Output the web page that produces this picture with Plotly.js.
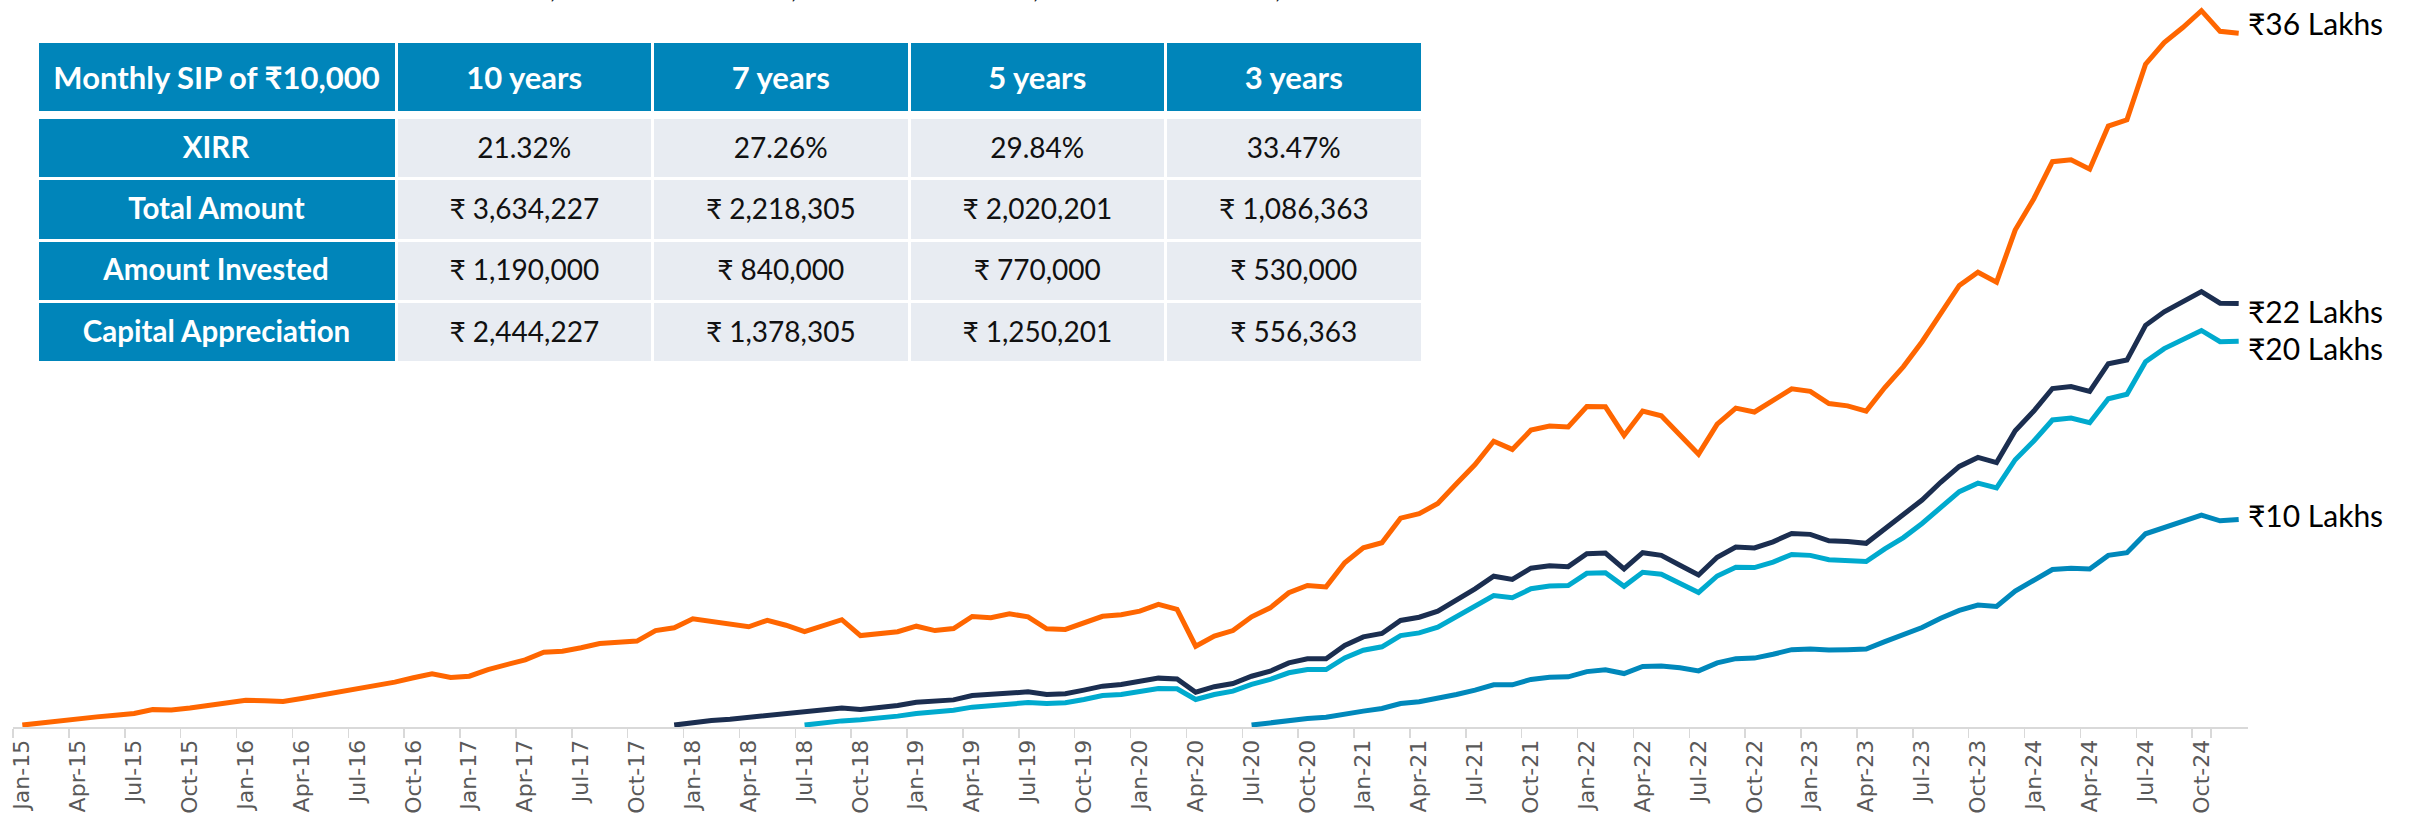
<!DOCTYPE html>
<html>
<head>
<meta charset="utf-8">
<script src="https://cdn.plot.ly/plotly-3.0.1.min.js"></script>
<style>
  html, body { margin: 0; padding: 0; background: #ffffff; }
  #chart { width: 2418px; height: 825px; }
</style>
</head>
<body>
<div id="chart"></div>
<script>
// ---------- categories / tick labels ----------
const monthNames = ['Jan','Feb','Mar','Apr','May','Jun','Jul','Aug','Sep','Oct','Nov','Dec'];
const yearLabels = ['15','16','17','18','19','20','21','22','23','24'];
const categories = [];
yearLabels.forEach(function (y) { monthNames.forEach(function (m) { categories.push(m + '-' + y); }); });
const tickLabels = categories.filter(function (c, i) { return i % 3 === 0; });

// ---------- series (portfolio value in ₹) ----------
const tenYearStart = 'Jan-15';
const tenYearValues = [
  10000, 22000, 33000, 44000, 53000, 62000, 71000, 91000, 89000, 100000,
  114000, 127000, 140000, 138000, 134000, 149000, 167000, 179000, 203000, 219000,
  235000, 258000, 279000, 259000, 266000, 301000, 327000, 352000, 392000, 397000,
  415000, 437000, 444000, 450000, 505000, 520000, 567000, 554000, 542000, 525000,
  559000, 533000, 499000, 532000, 562000, 479000, 488000, 499000, 528000, 505000,
  516000, 579000, 572000, 593000, 577000, 514000, 511000, 546000, 580000, 588000,
  607000, 642000, 616000, 423000, 476000, 505000, 577000, 624000, 703000, 741000,
  734000, 860000, 939000, 965000, 1094000, 1117000, 1171000, 1274000, 1375000, 1497000,
  1454000, 1555000, 1576000, 1572000, 1679000, 1677000, 1527000, 1655000, 1630000, 1530000,
  1429000, 1586000, 1670000, 1650000, 1707000, 1771000, 1758000, 1694000, 1682000, 1655000,
  1778000, 1888000, 2018000, 2171000, 2313000, 2382000, 2330000, 2603000, 2767000, 2961000,
  2971000, 2922000, 3148000, 3180000, 3472000, 3585000, 3664000, 3752000, 3644000, 3634227
];

const sevenYearStart = 'Dec-17';
const sevenYearValues = [
  10000, 25000, 34000, 41000, 50000, 60000, 67000, 76000, 88000, 99000,
  92000, 100000, 113000, 130000, 134000, 142000, 165000, 170000, 181000, 184000,
  170000, 174000, 193000, 214000, 223000, 237000, 256000, 252000, 182000, 211000,
  228000, 266000, 292000, 336000, 357000, 357000, 427000, 472000, 490000, 558000,
  575000, 607000, 664000, 724000, 790000, 773000, 832000, 844000, 840000, 908000,
  911000, 828000, 913000, 899000, 847000, 796000, 889000, 943000, 938000, 970000,
  1014000, 1009000, 975000, 972000, 962000, 1036000, 1110000, 1189000, 1282000, 1365000,
  1412000, 1385000, 1552000, 1655000, 1773000, 1783000, 1758000, 1903000, 1922000, 2104000,
  2175000, 2227000, 2281000, 2220000, 2218305
];

const fiveYearStart = 'Jul-18';
const fiveYearValues = [
  10000, 22000, 32000, 38000, 46000, 57000, 71000, 78000, 88000, 104000,
  111000, 121000, 128000, 123000, 127000, 144000, 165000, 170000, 184000, 202000,
  200000, 144000, 170000, 188000, 223000, 249000, 284000, 301000, 301000, 362000,
  402000, 420000, 479000, 493000, 523000, 577000, 630000, 689000, 677000, 724000,
  738000, 741000, 805000, 808000, 737000, 810000, 800000, 754000, 705000, 791000,
  837000, 835000, 864000, 904000, 899000, 876000, 874000, 867000, 933000, 992000,
  1066000, 1151000, 1233000, 1277000, 1252000, 1400000, 1498000, 1608000, 1618000, 1594000,
  1719000, 1743000, 1913000, 1982000, 2026000, 2077000, 2018000, 2020201
];

const threeYearStart = 'Jul-20';
const threeYearValues = [
  10000, 22000, 34000, 45000, 51000, 69000, 83000, 97000, 123000, 132000,
  148000, 170000, 193000, 221000, 221000, 249000, 261000, 263000, 290000, 300000,
  280000, 317000, 319000, 310000, 294000, 336000, 358000, 361000, 381000, 405000,
  408000, 403000, 405000, 408000, 447000, 481000, 521000, 570000, 611000, 639000,
  631000, 712000, 766000, 825000, 832000, 828000, 899000, 913000, 1012000, 1046000,
  1075000, 1110000, 1080000, 1086363
];

const endLabels = ['₹36 Lakhs', '₹22 Lakhs', '₹20 Lakhs', '₹10 Lakhs'];

// ---------- table ----------
const tableHeader = ['Monthly SIP of ₹10,000', '10 years', '7 years', '5 years', '3 years'];
const rowLabels = ['XIRR', 'Total Amount', 'Amount Invested', 'Capital Appreciation'];
const col10 = ['21.32%', '₹ 3,634,227', '₹ 1,190,000', '₹ 2,444,227'];
const col7  = ['27.26%', '₹ 2,218,305', '₹ 840,000', '₹ 1,378,305'];
const col5  = ['29.84%', '₹ 2,020,201', '₹ 770,000', '₹ 1,250,201'];
const col3  = ['33.47%', '₹ 1,086,363', '₹ 530,000', '₹ 556,363'];

// ---------- styling ----------
const C_ORANGE = '#FF6600', C_NAVY = '#1B2E50', C_CYAN = '#00AACE', C_TEAL = '#0088BB';
const C_HEAD = '#0085BA', C_CELL = '#E8ECF2', C_TXT = '#111111';
const FONT = 'Lato, "Noto Sans", "DejaVu Sans", sans-serif';

function xsFrom(start, n) {
  const s = categories.indexOf(start);
  return categories.slice(s, s + n);
}
function lineTrace(start, vals, color) {
  return { type: 'scatter', mode: 'lines', x: xsFrom(start, vals.length), y: vals,
           line: { color: color, width: 5 }, hoverinfo: 'skip', cliponaxis: false };
}

const W = 2418, H = 825;
const M = { l: 13, r: 170, t: 0, b: 98 };
const PW = W - M.l - M.r, PH = H - M.t - M.b;
function px2dx(px) { return (px - M.l) / PW; }
function py2dy(py) { return 1 - (py - M.t) / PH; }

const tblX = [px2dx(37), px2dx(1423)];
const colW = [359, 256.5, 256.5, 256.5, 256.5];

// a blank first line (in the small base font) pushes the real text down to the middle of the cell
function centred(txt, size, bold) {
  const t = bold ? '<b>' + txt + '</b>' : txt;
  return '&nbsp;<br><span style="font-size:' + size + 'px">' + t + '</span>';
}

const bodyCols = [rowLabels, col10, col7, col5, col3];
const bodyFill = [C_HEAD, C_CELL, C_CELL, C_CELL, C_CELL];
const bodyFontColor = ['#ffffff', C_TXT, C_TXT, C_TXT, C_TXT];
function fmtBody(v, ci) { return ci === 0 ? centred(v, 29.5, true) : centred(v, 28, false); }

// body table: first row (XIRR) is used as its header row, the other rows as cells
const bodyTable = {
  type: 'table',
  domain: { x: tblX, y: [py2dy(372), py2dy(117.5)] },
  columnwidth: colW,
  header: {
    values: bodyCols.map(function (col, ci) { return [fmtBody(col[0], ci)]; }),
    height: 61.3,
    align: 'center',
    fill: { color: bodyFill },
    line: { color: '#ffffff', width: 3 },
    font: { family: FONT, size: 14, color: bodyFontColor }
  },
  cells: {
    values: bodyCols.map(function (col, ci) { return col.slice(1).map(function (v) { return fmtBody(v, ci); }); }),
    height: 61.3,
    align: 'center',
    fill: { color: bodyFill },
    line: { color: '#ffffff', width: 3 },
    font: { family: FONT, size: 14, color: bodyFontColor }
  },
  hoverinfo: 'skip'
};

const headerTable = {
  type: 'table',
  domain: { x: tblX, y: [py2dy(114), py2dy(41.5)] },
  columnwidth: colW,
  header: {
    values: tableHeader.map(function (h) { return [centred(h, 31, true)]; }),
    height: 71,
    align: 'center',
    fill: { color: C_HEAD },
    line: { color: '#ffffff', width: 3 },
    font: { family: FONT, size: 17, color: '#ffffff' }
  },
  cells: { values: [] },
  hoverinfo: 'skip'
};

const traces = [
  lineTrace(threeYearStart, threeYearValues, C_TEAL),
  lineTrace(fiveYearStart, fiveYearValues, C_CYAN),
  lineTrace(sevenYearStart, sevenYearValues, C_NAVY),
  lineTrace(tenYearStart, tenYearValues, C_ORANGE),
  bodyTable,
  headerTable
];

const lastCat = categories[categories.length - 1];
const endSeries = [tenYearValues, sevenYearValues, fiveYearValues, threeYearValues];
const endShift = [10, -8, -7, 5];
const annotations = endSeries.map(function (vals, i) {
  return { x: lastCat, y: vals[vals.length - 1], xref: 'x', yref: 'y', text: endLabels[i],
           showarrow: false, xanchor: 'left', yanchor: 'middle', xshift: 7, yshift: endShift[i],
           font: { family: FONT, size: 30, color: '#000000' } };
});
// descenders of the cropped line of text above the chart
[553, 794, 1036, 1278].forEach(function (px) {
  annotations.push({ x: px2dx(px), y: 1, xref: 'paper', yref: 'paper', text: ',', showarrow: false,
                     xanchor: 'center', yanchor: 'bottom', yshift: -6,
                     font: { family: FONT, size: 27, color: '#000000' } });
});

const layout = {
  width: W, height: H,
  margin: M,
  paper_bgcolor: '#ffffff', plot_bgcolor: '#ffffff',
  showlegend: false,
  xaxis: {
    type: 'category', categoryorder: 'array', categoryarray: categories,
    range: [-0.5, categories.length - 0.5],
    tickmode: 'array', tickvals: tickLabels, ticktext: tickLabels,
    tickangle: -90, tickson: 'boundaries',
    ticks: 'outside', ticklen: 9, tickwidth: 1.5, tickcolor: '#D9D9D9',
    showline: true, linecolor: '#D9D9D9', linewidth: 2,
    showgrid: false, zeroline: false,
    ticklabelstandoff: 2,
    tickfont: { family: '"DejaVu Sans", Verdana, sans-serif', size: 22, color: '#595959' },
    fixedrange: true
  },
  yaxis: {
    range: [0, 3808000], visible: false, showgrid: false, zeroline: false, fixedrange: true
  },
  annotations: annotations
};

Plotly.newPlot('chart', traces, layout, { displayModeBar: false, staticPlot: true });
</script>
</body>
</html>
